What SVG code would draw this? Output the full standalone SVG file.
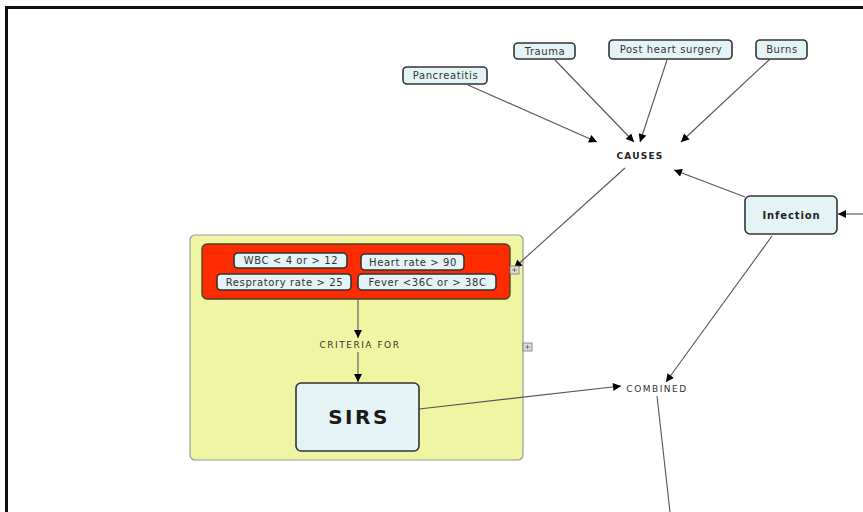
<svg xmlns="http://www.w3.org/2000/svg" width="863" height="512" viewBox="0 0 863 512">
<defs>
<marker id="ah" viewBox="0 0 10 10" refX="10" refY="5" markerWidth="10" markerHeight="8" markerUnits="userSpaceOnUse" orient="auto">
<path d="M0,0 L10,5 L0,10 z" fill="#000"/>
</marker>
<style>
.frame{fill:none;stroke:#111;stroke-width:3}
.node{fill:#e4f3f5;stroke:#333;stroke-width:1.6}
.t{font-family:"DejaVu Sans",sans-serif;font-size:10px;letter-spacing:0.6px;fill:#333;text-anchor:middle;dominant-baseline:central}
.lbl{font-family:"DejaVu Sans",sans-serif;font-size:9px;letter-spacing:1.5px;fill:#333;text-anchor:middle;dominant-baseline:central}
.b{font-weight:bold;fill:#222}
.c{fill:none;stroke:#555;stroke-width:1.1}
.ca{fill:none;stroke:#555;stroke-width:1.1;marker-end:url(#ah)}
.icon{fill:#ddd;stroke:#777;stroke-width:0.8}
</style>
</defs>
<rect width="863" height="512" fill="#fff"/>
<path class="frame" d="M6.5,515 V7.5 H866"/>

<g id="container">
<rect x="190" y="235" width="333" height="225" rx="5" fill="#eff5a3" stroke="#999" stroke-width="1.2"/>
</g>
<g id="criteria-group">
<rect x="202" y="244" width="308" height="55" rx="5" fill="#ff2b00" stroke="#442" stroke-width="1.3"/>
</g>

<g id="connectors">
<line class="ca" x1="468" y1="85" x2="597" y2="142"/>
<line class="ca" x1="555" y1="60" x2="634" y2="142"/>
<line class="ca" x1="667" y1="60" x2="640" y2="142"/>
<line class="ca" x1="770" y1="59" x2="681" y2="142"/>
<line class="ca" x1="745" y1="197" x2="674" y2="170"/>
<line class="ca" x1="863" y1="214" x2="838" y2="214"/>
<line class="ca" x1="625" y1="168" x2="514" y2="268"/>
<line class="ca" x1="772" y1="236" x2="666" y2="382"/>
<line class="ca" x1="358" y1="299" x2="358" y2="338"/>
<line class="ca" x1="358" y1="352" x2="358" y2="382"/>
<line class="ca" x1="419" y1="409" x2="621" y2="386"/>
<line class="c" x1="657" y1="396" x2="670" y2="512"/>
</g>

<g id="pancreatitis"><rect class="node" x="403" y="67" width="84" height="17" rx="4"/><text class="t" x="445.5" y="75.5">Pancreatitis</text></g>
<g id="trauma"><rect class="node" x="514" y="43" width="61" height="16" rx="4"/><text class="t" x="545" y="51">Trauma</text></g>
<g id="post-heart-surgery"><rect class="node" x="609" y="40" width="123" height="19" rx="4"/><text class="t" x="671" y="49.5">Post heart surgery</text></g>
<g id="burns"><rect class="node" x="756" y="40" width="51" height="19" rx="4"/><text class="t" x="782" y="49.5">Burns</text></g>
<g id="causes"><text class="lbl b" x="640" y="156" style="letter-spacing:1.2px">CAUSES</text></g>
<g id="infection"><rect class="node" x="745" y="196" width="92" height="38" rx="5"/><text class="t b" x="791.5" y="215" style="letter-spacing:0.9px">Infection</text></g>
<g id="wbc"><rect class="node" x="234" y="253" width="113" height="15" rx="4"/><text class="t" x="291" y="260.5">WBC &lt; 4 or &gt; 12</text></g>
<g id="heart-rate"><rect class="node" x="361" y="254" width="103" height="16" rx="4"/><text class="t" x="413" y="262">Heart rate &gt; 90</text></g>
<g id="respiratory"><rect class="node" x="217" y="274" width="134" height="16" rx="4"/><text class="t" x="284.5" y="282">Respratory rate &gt; 25</text></g>
<g id="fever"><rect class="node" x="358" y="274" width="138" height="16" rx="4"/><text class="t" x="427.5" y="282">Fever &lt;36C or &gt; 38C</text></g>
<g id="criteria-for"><text class="lbl" x="360" y="345">CRITERIA FOR</text></g>
<g id="sirs"><rect class="node" x="296" y="383" width="123" height="68" rx="5"/><text class="t b" x="359" y="417" style="font-size:20px;letter-spacing:2.5px;fill:#1a1a1a">SIRS</text></g>
<g id="combined"><text class="lbl" x="657" y="389">COMBINED</text></g>

<g id="icons">
<rect class="icon" x="510" y="266" width="9" height="8"/>
<path d="M512,270 h5 M514.5,268 v4" stroke="#555" stroke-width="0.7"/>
<rect class="icon" x="523" y="343" width="9" height="8"/>
<path d="M525,347 h5 M527.5,345 v4" stroke="#555" stroke-width="0.7"/>
</g>
</svg>
